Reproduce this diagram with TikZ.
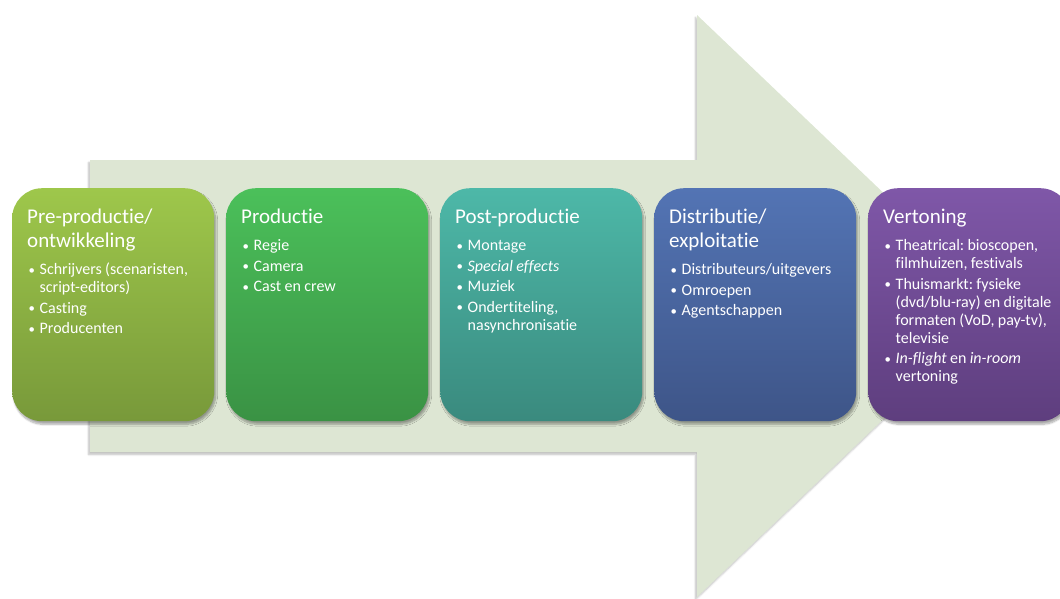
\documentclass[tikz,border=0pt]{standalone}
\usepackage{fontspec}
\usepackage{graphicx}
\setmainfont{Carlito}[Ligatures=NoCommon]
\usetikzlibrary{shadows.blur}
\frenchspacing
\definecolor{arrowfill}{RGB}{221,230,211}
\definecolor{gAt}{RGB}{158,199,75}\definecolor{gAb}{RGB}{120,153,58}
\definecolor{gBt}{RGB}{75,192,90}\definecolor{gBb}{RGB}{58,146,68}
\definecolor{gCt}{RGB}{77,184,168}\definecolor{gCb}{RGB}{58,138,126}
\definecolor{gDt}{RGB}{83,116,180}\definecolor{gDb}{RGB}{62,85,136}
\definecolor{gEt}{RGB}{127,87,168}\definecolor{gEb}{RGB}{94,62,126}
\newcommand\ttl[1]{{\fontsize{21}{24}\selectfont #1\par}\vspace{9pt}}
\newcommand\bl[1]{{\fontsize{16}{18}\selectfont\frenchspacing\hangindent=12.5pt\hangafter=1\noindent\makebox[12.5pt][l]{\hspace{1.5pt}\raisebox{0.5pt}{\scalebox{0.8}{\textbullet}}\hss}#1\par}\vspace{2.5pt}}
\tikzset{
  stagebox/.style={rectangle, rounded corners=30pt, minimum width=202pt, minimum height=233pt, inner sep=0pt, anchor=north west,
    blur shadow={shadow xshift=1.5pt, shadow yshift=-3pt, shadow blur steps=8, shadow opacity=35}},
  stagetext/.style={anchor=north west, inner sep=0pt, text width=#1, align=left, text=white},
}
\begin{document}
\begin{tikzpicture}[x=1pt,y=-1pt]
\useasboundingbox (0,0) rectangle (1060,598);
\clip (0,0) rectangle (1060,598);
% big arrow
\path[fill=arrowfill, blur shadow={shadow xshift=-1.5pt, shadow yshift=-2.5pt, shadow blur steps=5, shadow opacity=25}]
  (90,160) -- (697,160) -- (697,15) -- (1002,306) -- (697,597) -- (697,452) -- (90,452) -- cycle;
% boxes
\node[stagebox, top color=gAt, bottom color=gAb] (b1) at (12,188) {};
\node[stagebox, top color=gBt, bottom color=gBb] (b2) at (226,188) {};
\node[stagebox, top color=gCt, bottom color=gCb] (b3) at (440,188) {};
\node[stagebox, top color=gDt, bottom color=gDb] (b4) at (654,188) {};
\node[stagebox, top color=gEt, bottom color=gEb] (b5) at (868,188) {};
% texts
\node[stagetext=185pt] (t1) at ([xshift=15pt,yshift=-21pt]b1.north west) {%
\ttl{Pre-productie/\\ontwikkeling}
\bl{Schrijvers (scenaristen,\newline script-editors)}
\bl{Casting}
\bl{Producenten}};
\node[stagetext=185pt] (t2) at ([xshift=15pt,yshift=-21pt]b2.north west) {%
\ttl{Productie}
\bl{Regie}
\bl{Camera}
\bl{Cast en crew}};
\node[stagetext=185pt] (t3) at ([xshift=15pt,yshift=-21pt]b3.north west) {%
\ttl{Post-productie}
\bl{Montage}
\bl{\textit{Special effects}}
\bl{Muziek}
\bl{Ondertiteling,\newline nasynchronisatie}};
\node[stagetext=195pt] (t4) at ([xshift=15pt,yshift=-21pt]b4.north west) {%
\ttl{Distributie/\\exploitatie}
\bl{Distributeurs/uitgevers}
\bl{Omroepen}
\bl{Agentschappen}};
\node[stagetext=195pt] (t5) at ([xshift=15pt,yshift=-21pt]b5.north west) {%
\ttl{Vertoning}
\bl{Theatrical: bioscopen,\newline filmhuizen, festivals}
\bl{Thuismarkt: fysieke\newline (dvd/blu-ray) en digitale\newline formaten (VoD, pay-tv),\newline televisie}
\bl{\textit{In-flight} en \textit{in-room}\newline vertoning}};
\end{tikzpicture}
\end{document}
